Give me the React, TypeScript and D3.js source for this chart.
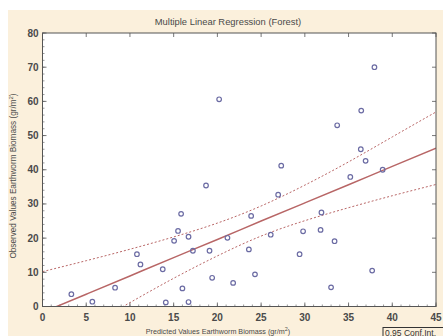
import React from "react";
import * as d3 from "d3";

const W = 443;
const H = 336;

const TITLE = "Multiple Linear Regression (Forest)";
const X_TITLE = "Predicted Values Earthworm Biomass (gr/m";
const Y_TITLE = "Observed Values Earthworm Biomass (gr/m";
const LEGEND = "0.95 Conf.Int.";

const xTicks = [0, 5, 10, 15, 20, 25, 30, 35, 40, 45];
const yTicks = [0, 10, 20, 30, 40, 50, 60, 70, 80];

const predicted = [
  3.3, 5.7, 8.3, 10.8, 11.2, 13.75, 14.1, 15.05, 15.5, 15.85,
  16.0, 16.7, 16.7, 17.2, 18.7, 19.1, 19.4, 20.2, 21.8, 21.15,
  23.6, 23.86, 24.3, 26.1, 26.95, 27.3, 29.4, 29.8, 31.8, 31.9,
  33.0, 33.4, 33.7, 35.2, 36.4, 36.45, 36.95, 37.7, 37.96, 38.9,
];
const observed = [
  3.6, 1.4, 5.5, 15.3, 12.3, 10.9, 1.2, 19.2, 22.1, 27.1,
  5.3, 20.4, 1.3, 16.3, 35.4, 16.3, 8.4, 60.6, 6.9, 20.1,
  16.7, 26.5, 9.4, 21.0, 32.7, 41.2, 15.3, 22.0, 22.4, 27.5,
  5.6, 19.1, 53.0, 37.9, 46.0, 57.3, 42.6, 10.5, 70.0, 40.0,
];

// regression line and confidence band
const lineX = [0, 5, 10, 15, 20, 25, 30, 35, 40, 45];
const fitY = [-1.73, 3.6, 8.94, 14.3, 19.6, 25.0, 30.3, 35.6, 41.0, 46.3];
const upperY = [10.2, 13.4, 16.75, 20.35, 24.4, 29.4, 35.5, 42.3, 49.6, 56.9];
const lowerY = [-13.6, -6.2, 1.13, 8.25, 14.8, 20.6, 25.1, 28.9, 32.4, 35.7];

const BG = "#fbf0dc";
const AXIS = "#555555";
const TEXT = "#4a4a4a";
const LINE = "#b86666";
const MARK = "#6b6ba3";

export default function App() {
  const left = 42.5;
  const right = 436;
  const top = 33;
  const bottom = 306.5;
  const x = d3.scaleLinear().domain([0, 45]).range([left, right]);
  const y = d3.scaleLinear().domain([0, 80]).range([bottom, top]);

  const mkLine = (ys: number[]) =>
    d3
      .line<number>()
      .x((_, i) => x(lineX[i]))
      .y((d) => y(d))
      .curve(d3.curveNatural)(ys) || "";

  const xMinor = d3.range(0, 46, 1);
  const yMinor = d3.range(0, 81, 2);

  return (
    <div style={{ position: "absolute", left: 0, top: 0 }}>
      <svg width={W} height={H} style={{ display: "block", fontFamily: "Liberation Sans, Arial, sans-serif" }}>
        <rect x={0} y={0} width={W} height={H} fill="#ffffff" />
        <rect x={8} y={10} width={W - 8} height={H - 10} fill={BG} />
        <rect x={left} y={top} width={right - left} height={bottom - top} fill="#ffffff" />
        <defs>
          <clipPath id="plotClip">
            <rect x={left} y={top} width={right - left} height={bottom - top} />
          </clipPath>
        </defs>

        {/* minor ticks */}
        {xMinor.map((v) => (
          <line key={"xm" + v} x1={x(v)} x2={x(v)} y1={bottom} y2={bottom - 2} stroke={AXIS} strokeWidth={0.6} />
        ))}
        {yMinor.map((v) => (
          <line key={"ym" + v} x1={left} x2={left + 2} y1={y(v)} y2={y(v)} stroke={AXIS} strokeWidth={0.6} />
        ))}
        {/* major ticks */}
        {xTicks.map((v) => (
          <g key={"xt" + v}>
            <line x1={x(v)} x2={x(v)} y1={bottom} y2={bottom - 4} stroke={AXIS} strokeWidth={0.8} />
            <line x1={x(v)} x2={x(v)} y1={top} y2={top + 4} stroke={AXIS} strokeWidth={0.8} />
            <text x={x(v)} y={bottom + 14} textAnchor="middle" fontSize={10} fontWeight="bold" fill={TEXT}>
              {v}
            </text>
          </g>
        ))}
        {yTicks.map((v) => (
          <g key={"yt" + v}>
            <line x1={left} x2={left + 4} y1={y(v)} y2={y(v)} stroke={AXIS} strokeWidth={0.8} />
            <line x1={right} x2={right - 4} y1={y(v)} y2={y(v)} stroke={AXIS} strokeWidth={0.8} />
            <text x={left - 4} y={y(v) + 3.5} textAnchor="end" fontSize={10} fontWeight="bold" fill={TEXT}>
              {v}
            </text>
          </g>
        ))}

        <g clipPath="url(#plotClip)">
          <path d={mkLine(upperY)} fill="none" stroke={LINE} strokeWidth={1} strokeDasharray="2,2" />
          <path d={mkLine(lowerY)} fill="none" stroke={LINE} strokeWidth={1} strokeDasharray="2,2" />
          <path d={mkLine(fitY)} fill="none" stroke={LINE} strokeWidth={1.5} />
        </g>

        {predicted.map((p, i) => (
          <circle key={"p" + i} cx={x(p)} cy={y(observed[i])} r={2.3} fill="none" stroke={MARK} strokeWidth={1.2} />
        ))}

        <rect x={left} y={top} width={right - left} height={bottom - top} fill="none" stroke={AXIS} strokeWidth={1} />

        <text x={228} y={25} textAnchor="middle" fontSize={9.4} fill={TEXT}>
          {TITLE}
        </text>
        <text x={218} y={334} textAnchor="middle" fontSize={7.2} fill={TEXT}>
          {X_TITLE}
          <tspan dy={-3} fontSize={5.5}>2</tspan>
          <tspan dy={3}>)</tspan>
        </text>
        <text transform={`translate(16,176) rotate(-90)`} textAnchor="middle" fontSize={8.2} fill={TEXT}>
          {Y_TITLE}
          <tspan dy={-3} fontSize={6}>2</tspan>
          <tspan dy={3}>)</tspan>
        </text>

        <rect x={383} y={327.5} width={64} height={14} fill="none" stroke="#333" strokeWidth={1} />
        <text x={385} y={335.5} fontSize={8.5} fill="#333">
          {LEGEND}
        </text>
      </svg>
    </div>
  );
}
